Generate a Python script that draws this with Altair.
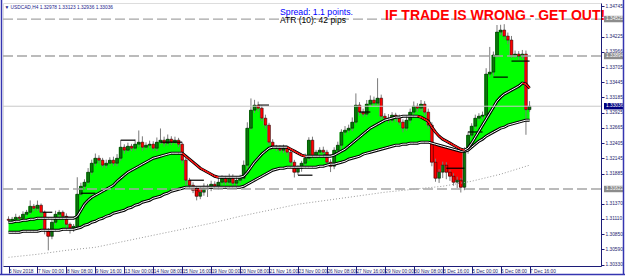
import json
import altair as alt
import pandas as pd

# ---------------- data ----------------
x_labels = ["5 Nov 2018", "7 Nov 00:00", "8 Nov 08:00", "9 Nov 16:00", "13 Nov 00:00",
            "14 Nov 08:00", "15 Nov 16:00", "19 Nov 00:00", "20 Nov 08:00", "21 Nov 16:00",
            "23 Nov 00:00", "26 Nov 08:00", "27 Nov 16:00", "29 Nov 00:00", "30 Nov 08:00",
            "3 Dec 16:00", "5 Dec 00:00", "6 Dec 08:00", "7 Dec 16:00"]

# ticks whose labels are not covered by a price box
price_ticks = [1.34745, 1.34225, 1.33966, 1.33705, 1.33445, 1.33185, 1.32925,
               1.32665, 1.32405, 1.32145, 1.31885, 1.31370, 1.31110, 1.30850,
               1.30590, 1.30330]

first_open = 1.31105
close = [1.31088, 1.31105, 1.31139, 1.31122, 1.31191, 1.31225, 1.31327, 1.31293, 1.31345, 1.31225,
         1.30917, 1.30814, 1.31054, 1.31191, 1.31225, 1.31156, 1.31020, 1.30951, 1.30985, 1.31533,
         1.31669, 1.31738, 1.31909, 1.32063, 1.32148, 1.32114, 1.32029, 1.32063, 1.32114, 1.32063,
         1.32148, 1.32336, 1.32285, 1.32353, 1.32319, 1.32388, 1.32422, 1.32336, 1.32370, 1.32388,
         1.32319, 1.32422, 1.32456, 1.32405, 1.32473, 1.32422, 1.32456, 1.32388, 1.32114, 1.31772,
         1.31686, 1.31601, 1.31498, 1.31567, 1.31669, 1.31635, 1.31704, 1.31669, 1.31738, 1.31806,
         1.31738, 1.31823, 1.31721, 1.31772, 1.31806, 1.32029, 1.32661, 1.32969, 1.33055, 1.33003,
         1.32832, 1.32713, 1.32422, 1.32336, 1.32319, 1.32285, 1.32319, 1.32251, 1.32080, 1.31909,
         1.31977, 1.32063, 1.32148, 1.32456, 1.32182, 1.32251, 1.32285, 1.32251, 1.32080, 1.32011,
         1.32285, 1.32370, 1.32593, 1.32627, 1.32661, 1.32764, 1.33055, 1.32935, 1.32901, 1.33072,
         1.33140, 1.33089, 1.33174, 1.32866, 1.32832, 1.32798, 1.32884, 1.32832, 1.32764, 1.32661,
         1.32798, 1.32935, 1.33037, 1.33003, 1.33072, 1.32935, 1.32713, 1.32080, 1.31806, 1.31909,
         1.32029, 1.31909, 1.31840, 1.31738, 1.31772, 1.31652, 1.32285, 1.32542, 1.32695, 1.32832,
         1.32866, 1.32884, 1.33585, 1.33619, 1.33910, 1.34303, 1.34337, 1.34234, 1.34166, 1.33910,
         1.33927, 1.33892, 1.33927, 1.32978, 1.33036]

# upper / lower wick lengths in pips
wick_up = [5, 4, 6, 3, 5, 4, 10, 4, 8, 3,
           3, 4, 5, 6, 4, 3, 5, 3, 4, 29,
           6, 5, 7, 6, 8, 5, 4, 6, 5, 6,
           7, 12, 5, 6, 4, 8, 20, 10, 5, 6,
           5, 8, 20, 6, 8, 5, 6, 4, 3, 4,
           4, 5, 3, 6, 5, 4, 6, 5, 7, 5,
           4, 6, 5, 4, 6, 8, 10, 20, 9, 6,
           5, 6, 4, 5, 4, 5, 6, 4, 5, 4,
           5, 4, 8, 5, 6, 4, 5, 6, 4, 5,
           5, 6, 5, 7, 6, 8, 20, 5, 6, 7,
           8, 6, 34, 6, 5, 7, 5, 4, 6, 5,
           5, 6, 8, 5, 7, 5, 6, 5, 6, 5,
           6, 5, 4, 5, 6, 4, 5, 6, 5, 6,
           5, 6, 10, 43, 6, 12, 9, 10, 6, 7,
           6, 5, 7, 6, 8.7]
wick_down = [4, 5, 3, 6, 3, 4, 3, 5, 4, 6,
             7, 24, 5, 4, 6, 5, 8, 9, 6, 4,
             4, 5, 3, 4, 5, 6, 4, 5, 3, 5,
             5, 4, 6, 3, 5, 4, 5, 6, 4, 5,
             4, 5, 3, 6, 4, 5, 3, 5, 6, 8,
             6, 5, 7, 5, 6, 15, 5, 4, 6, 5,
             5, 4, 6, 5, 5, 4, 5, 3, 5, 6,
             5, 6, 5, 4, 5, 4, 5, 6, 5, 9,
             5, 6, 4, 5, 6, 5, 4, 5, 6, 10,
             5, 4, 6, 5, 4, 5, 4, 6, 5, 4,
             5, 6, 4, 5, 6, 5, 4, 6, 5, 7,
             4, 5, 4, 6, 5, 5, 6, 7, 6, 8,
             10, 12, 8, 6, 10, 9, 5, 6, 4, 5,
             4, 5, 6, 5, 6, 4, 5, 6, 7, 5,
             5, 6, 5, 43, 4.2]

slow_ma = [1.30883, 1.30883, 1.30883, 1.30883, 1.30900, 1.30900, 1.30900, 1.30900, 1.30900, 1.30917,
           1.30917, 1.30917, 1.30917, 1.30917, 1.30917, 1.30934, 1.30934, 1.30934, 1.30934, 1.30951,
           1.30968, 1.31003, 1.31020, 1.31054, 1.31071, 1.31105, 1.31122, 1.31156, 1.31174, 1.31208,
           1.31225, 1.31242, 1.31259, 1.31293, 1.31310, 1.31345, 1.31362, 1.31396, 1.31413, 1.31430,
           1.31464, 1.31481, 1.31498, 1.31533, 1.31550, 1.31584, 1.31601, 1.31618, 1.31635, 1.31652,
           1.31652, 1.31652, 1.31652, 1.31652, 1.31652, 1.31652, 1.31652, 1.31652, 1.31652, 1.31652,
           1.31652, 1.31652, 1.31652, 1.31652, 1.31652, 1.31669, 1.31704, 1.31738, 1.31772, 1.31806,
           1.31840, 1.31875, 1.31909, 1.31943, 1.31960, 1.31977, 1.31977, 1.31994, 1.31994, 1.31994,
           1.31994, 1.31994, 1.31994, 1.31994, 1.31994, 1.31994, 1.32011, 1.32011, 1.32029, 1.32046,
           1.32046, 1.32063, 1.32080, 1.32097, 1.32131, 1.32148, 1.32165, 1.32182, 1.32217, 1.32234,
           1.32251, 1.32268, 1.32285, 1.32302, 1.32319, 1.32336, 1.32353, 1.32370, 1.32370, 1.32388,
           1.32388, 1.32405, 1.32405, 1.32405, 1.32422, 1.32422, 1.32422, 1.32405, 1.32388, 1.32370,
           1.32353, 1.32336, 1.32319, 1.32302, 1.32285, 1.32268, 1.32268, 1.32285, 1.32336, 1.32388,
           1.32439, 1.32473, 1.32524, 1.32559, 1.32593, 1.32627, 1.32661, 1.32678, 1.32713, 1.32730,
           1.32747, 1.32764, 1.32781, 1.32798, 1.32798]

fast_ma = [1.31054, 1.31054, 1.31071, 1.31071, 1.31088, 1.31088, 1.31105, 1.31105, 1.31122, 1.31122,
           1.31122, 1.31122, 1.31122, 1.31122, 1.31122, 1.31122, 1.31122, 1.31122, 1.31122, 1.31156,
           1.31259, 1.31362, 1.31430, 1.31481, 1.31516, 1.31550, 1.31584, 1.31618, 1.31652, 1.31686,
           1.31755, 1.31806, 1.31858, 1.31909, 1.31943, 1.31977, 1.32011, 1.32046, 1.32080, 1.32114,
           1.32148, 1.32165, 1.32182, 1.32200, 1.32217, 1.32234, 1.32234, 1.32234, 1.32234, 1.32182,
           1.32131, 1.32080, 1.32029, 1.31977, 1.31943, 1.31909, 1.31875, 1.31840, 1.31823, 1.31823,
           1.31823, 1.31823, 1.31823, 1.31823, 1.31823, 1.31840, 1.31909, 1.31994, 1.32080, 1.32148,
           1.32217, 1.32268, 1.32319, 1.32336, 1.32336, 1.32336, 1.32336, 1.32336, 1.32302, 1.32268,
           1.32234, 1.32200, 1.32182, 1.32182, 1.32182, 1.32182, 1.32182, 1.32182, 1.32182, 1.32182,
           1.32200, 1.32234, 1.32268, 1.32302, 1.32353, 1.32405, 1.32456, 1.32507, 1.32559, 1.32610,
           1.32661, 1.32695, 1.32730, 1.32764, 1.32798, 1.32815, 1.32832, 1.32850, 1.32850, 1.32866,
           1.32866, 1.32866, 1.32866, 1.32866, 1.32850, 1.32815, 1.32781, 1.32678, 1.32593, 1.32524,
           1.32473, 1.32439, 1.32405, 1.32370, 1.32336, 1.32302, 1.32285, 1.32319, 1.32405, 1.32507,
           1.32610, 1.32713, 1.32815, 1.32918, 1.33020, 1.33123, 1.33191, 1.33243, 1.33277, 1.33311,
           1.33345, 1.33379, 1.33431, 1.33414, 1.33345]

ma200_bar = [0, 8, 16, 24, 32, 40, 48, 56, 64, 72, 80, 88, 96, 104, 112, 120, 128, 136, 144]
ma200 = [1.30455, 1.30507, 1.30575, 1.30626, 1.30729, 1.30832, 1.30934, 1.31037, 1.31156, 1.31259,
         1.31362, 1.31430, 1.31498, 1.31567, 1.31618, 1.31669, 1.31755, 1.31875, 1.32029]

level_start = [9.4, 15.4, 20, 31, 42, 50, 69, 72.4, 80, 87, 97, 121, 127, 134, 139]
level_end = [12.1, 18.6, 24, 35, 48, 54, 72, 77, 84, 89.5, 100, 126, 131, 138, 144]
level_price = [1.31225, 1.31139, 1.31550, 1.32456, 1.32422, 1.31772, 1.33055, 1.32353, 1.31858,
               1.32200, 1.32937, 1.31977, 1.32596, 1.33533, 1.33807]

dashed_levels = [1.34525, 1.33894, 1.31622]
bid_price = 1.33036
header = "USDCAD,H4  1.32978 1.33123 1.32936 1.33036"

# ---------------- tables ----------------
n = len(close)
opens = [first_open] + close[:-1]
rows = []
for i in range(n):
    o, c = opens[i], close[i]
    rows.append(dict(i=i, open=o, close=c,
                     high=max(o, c) + wick_up[i] / 1e4,
                     low=min(o, c) - wick_down[i] / 1e4,
                     slow=slow_ma[i], fast=fast_ma[i],
                     gtop=max(c, slow_ma[i]), rbot=min(c, slow_ma[i])))
df = pd.DataFrame(rows)
seg = pd.DataFrame([dict(i=i, i2=i + 1, f=fast_ma[i], f2=fast_ma[i + 1])
                    for i in range(n - 1) if fast_ma[i + 1] < fast_ma[i]])

NAVY = "#1c1c78"
LBL = "#23236e"
FONT = "Liberation Sans"

xs = alt.Scale(domain=[-0.14, 162.36], nice=False, zero=False)
ys = alt.Scale(domain=[1.30307, 1.34799], nice=False, zero=False)

xaxis = alt.Axis(values=list(range(0, 145, 8)),
                 labelExpr=json.dumps(x_labels) + "[round(datum.value/8)]",
                 title=None, grid=False, domainColor=NAVY, tickColor=NAVY, tickSize=7,
                 labelAlign="left", labelBaseline="top", labelPadding=-5,
                 labelFontSize=4.8, labelColor=LBL, labelFont=FONT,
                 labelOverlap=False, labelFlush=False)
yaxis = alt.Axis(orient="right", values=price_ticks, format=".5f", title=None, grid=False,
                 domainColor=NAVY, tickColor=NAVY, tickSize=3, labelPadding=1,
                 labelFontSize=4.8, labelColor=LBL, labelFont=FONT,
                 labelOverlap=False, labelFlush=False)


def X(f):
    return alt.X(f, type="quantitative", scale=xs, axis=xaxis)


def Y(f):
    return alt.Y(f, type="quantitative", scale=ys, axis=yaxis)


base = alt.Chart(df)
g_area = base.mark_area(interpolate="step", color="#00ff00").encode(x=X("i"), y=Y("gtop"), y2="slow")
r_area = base.mark_area(interpolate="step", color="#ff0000").encode(x=X("i"), y=Y("rbot"), y2="slow")

wicks = base.mark_rule(color="#7a7a7a", strokeWidth=1).encode(x=X("i"), y=Y("low"), y2="high")
bodies = base.mark_bar(width=2.8, stroke="black", strokeWidth=0.5).encode(
    x=X("i"), y=Y("open"), y2="close",
    color=alt.condition("datum.close >= datum.open", alt.value("#0a780a"), alt.value("#ff0000")))

lv = alt.Chart(pd.DataFrame({"s": level_start, "e": level_end, "p": level_price})).mark_rule(
    color="black", strokeWidth=1.2).encode(x=X("s"), x2="e", y=Y("p"))

slow_o = base.mark_line(color="black", strokeWidth=3).encode(x=X("i"), y=Y("slow"))
slow_i = base.mark_line(color="white", strokeWidth=1).encode(x=X("i"), y=Y("slow"))
fast_o = base.mark_line(color="black", strokeWidth=3).encode(x=X("i"), y=Y("fast"))
fast_i = base.mark_line(color="white", strokeWidth=1).encode(x=X("i"), y=Y("fast"))
fast_r = alt.Chart(seg).mark_rule(color="#ff0000", strokeWidth=1.4).encode(
    x=X("i"), x2="i2", y=Y("f"), y2="f2")

m200 = alt.Chart(pd.DataFrame({"i": ma200_bar, "v": ma200})).mark_line(
    color="#9a9a9a", strokeDash=[1, 2], strokeWidth=1).encode(x=X("i"), y=Y("v"))

dashed = alt.Chart(pd.DataFrame({"p": dashed_levels})).mark_rule(
    color="#a5a5a5", strokeDash=[10, 4], strokeWidth=1.3).encode(y=Y("p"))
bid = alt.Chart(pd.DataFrame({"p": [bid_price]})).mark_rule(
    color="#c8c8c8", strokeWidth=1).encode(y=Y("p"))

boxes_df = pd.DataFrame({
    "p": dashed_levels + [bid_price],
    "lab": ["%.5f" % v for v in dashed_levels + [bid_price]],
    "bg": ["#8c8c8c", "#8c8c8c", "#8c8c8c", "#000080"],
})
boxes_df["top"] = boxes_df["p"] + 0.00055
boxes_df["bot"] = boxes_df["p"] - 0.00055
box_rect = alt.Chart(boxes_df).mark_rect().encode(
    x=alt.value(601), x2=alt.value(620), y=Y("top"), y2="bot",
    color=alt.Color("bg:N", scale=None))
box_text = alt.Chart(boxes_df).mark_text(align="left", baseline="middle", fontSize=4.8,
                                         font=FONT, color="white").encode(
    x=alt.value(603), y=Y("p"), text="lab:N")

one = pd.DataFrame({"a": [0]})


def label(txt, x, y, size, color, weight="normal"):
    return alt.Chart(one).mark_text(text=txt, align="left", baseline="alphabetic", fontSize=size,
                                    font=FONT, color=color, fontWeight=weight).encode(
        x=alt.value(x), y=alt.value(y))


t_head = label("\u25bc " + header, 1.5, 6, 4.8, "#1a1a8c")
t_spread = label("Spread: 1.1 points.", 277, 11.5, 8.7, "#0000ff")
t_atr = label("ATR (10): 42 pips", 277, 20, 8.5, "#000000")
t_warn = label("IF TRADE IS WRONG - GET OUT!", 382, 17, 14, "#ff0000", "bold")

frame_l = alt.Chart(one).mark_rule(color="#3535b0", strokeWidth=1.5).encode(
    x=alt.value(-1.5), y=alt.value(-3), y2=alt.value(272))
frame_b = alt.Chart(one).mark_rule(color="#3535b0", strokeWidth=1.5).encode(
    x=alt.value(-3), x2=alt.value(622), y=alt.value(271.5))
frame_r = alt.Chart(one).mark_rule(color="#3535b0", strokeWidth=1.5).encode(
    x=alt.value(620.5), y=alt.value(-3), y2=alt.value(272))

chart = alt.layer(
    g_area, r_area, wicks, bodies, lv, slow_o, slow_i, fast_o, fast_i, fast_r, m200,
    dashed, bid, box_rect, box_text, t_head, t_spread, t_atr, t_warn, frame_l, frame_b, frame_r
).properties(
    width=598, height=263,
    padding={"left": 3, "top": 3, "right": 24, "bottom": 11},
    autosize=alt.AutoSizeParams(type="none"),
).configure_view(stroke=NAVY, strokeWidth=1, fill="white").configure(background="white")

chart.save("out.html", embed_options={"renderer": "svg", "actions": False})
